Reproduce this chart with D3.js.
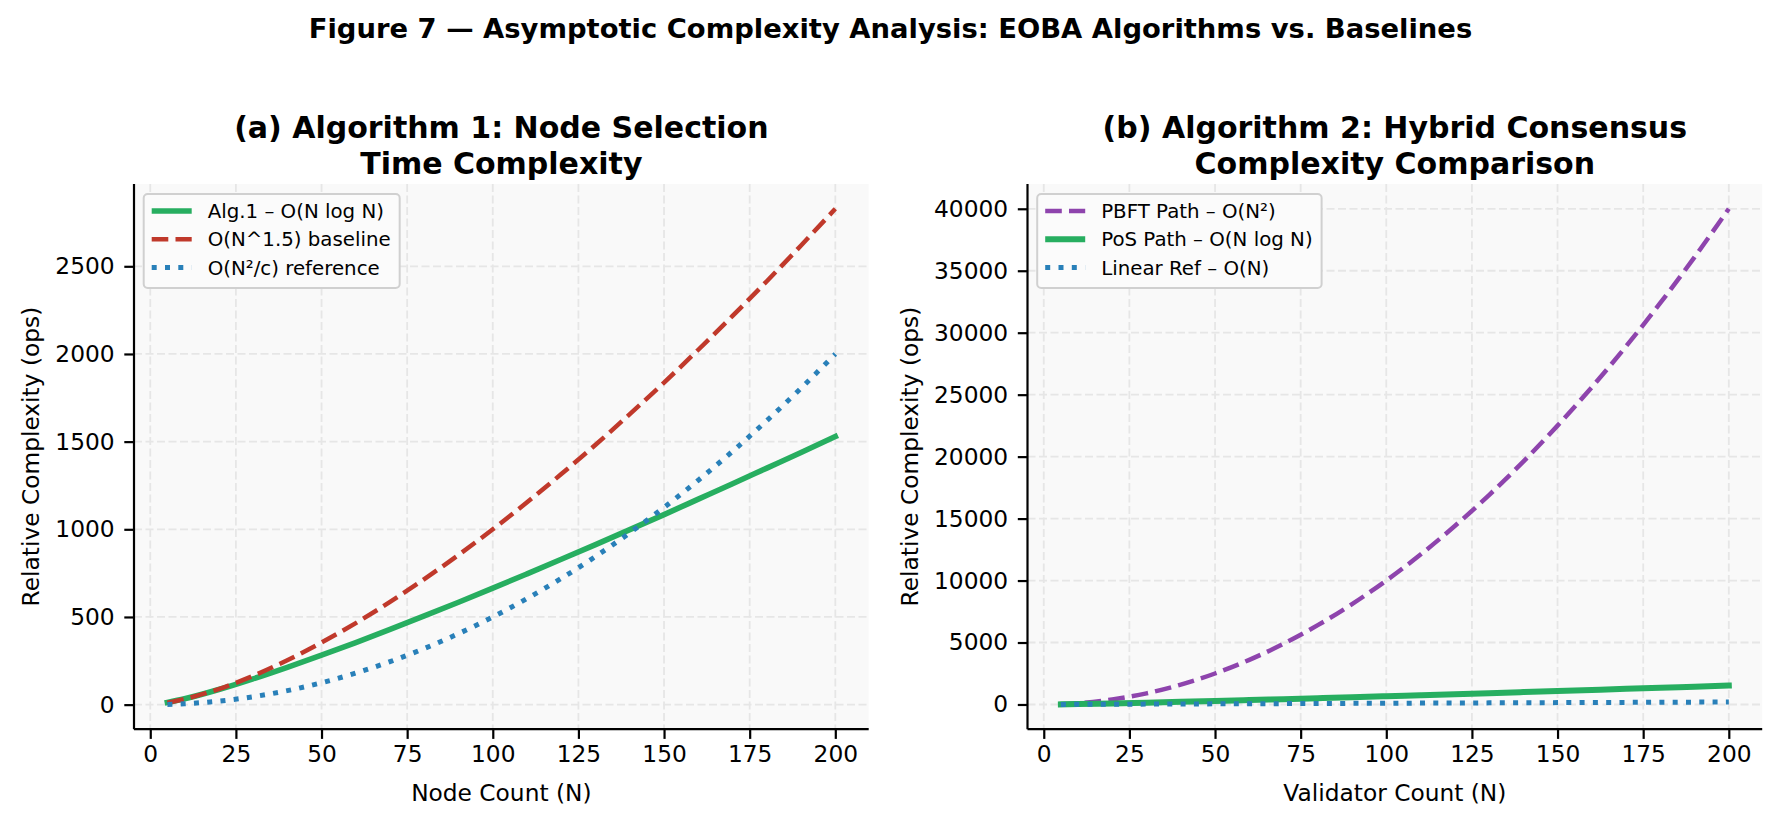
<!DOCTYPE html>
<html>
<head>
<meta charset="utf-8">
<script src="https://cdn.jsdelivr.net/npm/d3@7/dist/d3.min.js"></script>
<style>
body { margin: 0; background: #fff; }
text { font-family: "DejaVu Sans", sans-serif; fill: #000; }
</style>
</head>
<body>
<svg id="visualisation" width="1781" height="824"></svg>
<script>
// values (N = 5, 10, 20 ... 200)
var nodeCount = [5, 10, 20, 30, 40, 50, 60, 70, 80, 90, 100, 110, 120, 130, 140, 150, 160, 170, 180, 190, 200];
var alg1Ops = [12, 33, 86, 147, 213, 282, 354, 429, 506, 584, 664, 746, 829, 913, 998, 1084, 1172, 1260, 1349, 1438, 1529];
var baselineOps = [11, 32, 89, 164, 253, 354, 465, 586, 716, 854, 1000, 1154, 1315, 1482, 1657, 1837, 2024, 2217, 2415, 2619, 2828];
var refOps = [1.25, 5, 20, 45, 80, 125, 180, 245, 320, 405, 500, 605, 720, 845, 980, 1125, 1280, 1445, 1620, 1805, 2000];

var validatorCount = [5, 10, 20, 30, 40, 50, 60, 70, 80, 90, 100, 110, 120, 130, 140, 150, 160, 170, 180, 190, 200];
var pbftOps = [25, 100, 400, 900, 1600, 2500, 3600, 4900, 6400, 8100, 10000, 12100, 14400, 16900, 19600, 22500, 25600, 28900, 32400, 36100, 40000];
var posOps = [12, 33, 86, 147, 213, 282, 354, 429, 506, 584, 664, 746, 829, 913, 998, 1084, 1172, 1260, 1349, 1438, 1529];
var linearOps = [5, 10, 20, 30, 40, 50, 60, 70, 80, 90, 100, 110, 120, 130, 140, 150, 160, 170, 180, 190, 200];

var xTicks = [0, 25, 50, 75, 100, 125, 150, 175, 200];
var yTicksA = [0, 500, 1000, 1500, 2000, 2500];
var yTicksB = [0, 5000, 10000, 15000, 20000, 25000, 30000, 35000, 40000];

var GREEN = "#27ae60", RED = "#c0392b", BLUE = "#2980b9", PURPLE = "#8e44ad";

var vis = d3.select("#visualisation");

vis.append("text")
    .attr("x", 890.5)
    .attr("y", 38)
    .attr("text-anchor", "middle")
    .style("font-size", "27.4px")
    .style("font-weight", "bold")
    .text("Figure 7 \u2014 Asymptotic Complexity Analysis: EOBA Algorithms vs. Baselines");

var styleOf = {
    solid: { dash: null, cap: "square" },
    dashed: { dash: "16.6,7.2", cap: "butt" },
    dotted: { dash: "5,8.3", cap: "butt" }
};

var drawPanel = function (p) {
    var xs = p.x;
    var allY = [];
    p.series.forEach(function (s) { allY = allY.concat(s.values); });
    var xMin = d3.min(xs), xMax = d3.max(xs), yMin = d3.min(allY), yMax = d3.max(allY);
    var xPad = (xMax - xMin) * 0.05, yPad = (yMax - yMin) * 0.05;

    var xScale = d3.scaleLinear().domain([xMin - xPad, xMax + xPad]).range([p.left, p.right]);
    var yScale = d3.scaleLinear().domain([yMin - yPad, yMax + yPad]).range([p.bottom, p.top]);

    var g = vis.append("g");

    g.append("rect")
        .attr("x", p.left).attr("y", p.top)
        .attr("width", p.right - p.left).attr("height", p.bottom - p.top)
        .attr("fill", "#f9f9f9");

    // grid
    g.selectAll(".vgrid").data(xTicks).enter().append("line")
        .attr("x1", function (d) { return xScale(d); })
        .attr("x2", function (d) { return xScale(d); })
        .attr("y1", p.top).attr("y2", p.bottom)
        .attr("stroke", "#e6e6e6").attr("stroke-width", 1.8)
        .attr("stroke-dasharray", "8,3.5");
    g.selectAll(".hgrid").data(p.yTicks).enter().append("line")
        .attr("y1", function (d) { return yScale(d); })
        .attr("y2", function (d) { return yScale(d); })
        .attr("x1", p.left).attr("x2", p.right)
        .attr("stroke", "#e6e6e6").attr("stroke-width", 1.8)
        .attr("stroke-dasharray", "8,3.5");

    var lines = g.append("g");
    p.series.forEach(function (s) {
        var pts = xs.map(function (x, i) { return [x, s.values[i]]; });
        var lineGen = d3.line()
            .x(function (d) { return xScale(d[0]); })
            .y(function (d) { return yScale(d[1]); })
            .curve(d3.curveMonotoneX);
        lines.append("path")
            .attr("d", lineGen(pts))
            .attr("fill", "none")
            .attr("stroke", s.color)
            .attr("stroke-width", s.width)
            .attr("stroke-dasharray", styleOf[s.style].dash)
            .attr("stroke-linecap", styleOf[s.style].cap)
            .attr("stroke-linejoin", "round");
    });

    // axes
    var fmt = d3.format("d");
    var xAxis = d3.axisBottom(xScale).tickValues(xTicks).tickFormat(fmt).tickSize(9.7).tickPadding(7);
    var yAxis = d3.axisLeft(yScale).tickValues(p.yTicks).tickFormat(fmt).tickSize(9.7).tickPadding(9.7);
    var gx = g.append("g")
        .attr("transform", "translate(0," + p.bottom + ")")
        .call(xAxis);
    var gy = g.append("g")
        .attr("transform", "translate(" + p.left + ",0)")
        .call(yAxis);
    [gx, gy].forEach(function (ax) {
        ax.select(".domain").attr("stroke", "#000").attr("stroke-width", 2.2);
        ax.selectAll(".tick line").attr("stroke", "#000").attr("stroke-width", 2.2);
        ax.selectAll(".tick text")
            .style("font-family", "DejaVu Sans")
            .style("font-size", "23.3px")
            .attr("fill", "#000");
    });
    gx.select(".domain").attr("d", "M" + p.left + ",0H" + p.right);
    gy.select(".domain").attr("d", "M0," + p.top + "V" + p.bottom);

    // axis labels
    g.append("text")
        .attr("x", (p.left + p.right) / 2)
        .attr("y", 801)
        .attr("text-anchor", "middle")
        .style("font-size", "23.3px")
        .text(p.xLabel);
    g.append("text")
        .attr("transform", "translate(" + p.yLabelX + "," + ((p.top + p.bottom) / 2) + ") rotate(-90)")
        .attr("text-anchor", "middle")
        .style("font-size", "23.3px")
        .text(p.yLabel);

    // title
    var t = g.append("text")
        .attr("text-anchor", "middle")
        .style("font-size", "30px")
        .style("font-weight", "bold");
    p.title.forEach(function (line, i) {
        t.append("tspan")
            .attr("x", (p.left + p.right) / 2)
            .attr("y", 138 + i * 35.6)
            .text(line);
    });

    // legend
    var bx = p.left + 9.7, by = p.top + 10;
    var lg = g.append("g");
    var box = lg.append("rect")
        .attr("x", bx).attr("y", by)
        .attr("height", 94).attr("rx", 4).attr("ry", 4)
        .attr("fill", "#fbfbfb").attr("stroke", "#d0d0d0").attr("stroke-width", 2);
    var maxW = 0;
    p.series.forEach(function (s, i) {
        var ry = by + 17 + i * 28.3;
        lg.append("line")
            .attr("x1", bx + 8).attr("x2", bx + 48)
            .attr("y1", ry).attr("y2", ry)
            .attr("stroke", s.color)
            .attr("stroke-width", s.width)
            .attr("stroke-dasharray", styleOf[s.style].dash)
            .attr("stroke-linecap", "butt");
        var tx = lg.append("text")
            .attr("x", bx + 64).attr("y", ry)
            .attr("dy", "0.35em")
            .style("font-size", "19.8px")
            .text(s.label);
        maxW = Math.max(maxW, tx.node().getComputedTextLength());
    });
    box.attr("width", 64 + maxW + 9);
};

drawPanel({
    left: 134, right: 868.7, top: 184, bottom: 729.2,
    x: nodeCount,
    yTicks: yTicksA,
    yLabelX: 39,
    title: ["(a) Algorithm 1: Node Selection", "Time Complexity"],
    xLabel: "Node Count (N)",
    yLabel: "Relative Complexity (ops)",
    series: [
        { label: "Alg.1 \u2013 O(N log N)", values: alg1Ops, color: GREEN, width: 5.6, style: "solid" },
        { label: "O(N^1.5) baseline", values: baselineOps, color: RED, width: 4.5, style: "dashed" },
        { label: "O(N\u00b2/c) reference", values: refOps, color: BLUE, width: 5, style: "dotted" }
    ]
});

drawPanel({
    left: 1027.5, right: 1762.2, top: 184, bottom: 729.2,
    x: validatorCount,
    yTicks: yTicksB,
    yLabelX: 918,
    title: ["(b) Algorithm 2: Hybrid Consensus", "Complexity Comparison"],
    xLabel: "Validator Count (N)",
    yLabel: "Relative Complexity (ops)",
    series: [
        { label: "PBFT Path \u2013 O(N\u00b2)", values: pbftOps, color: PURPLE, width: 4.5, style: "dashed" },
        { label: "PoS Path \u2013 O(N log N)", values: posOps, color: GREEN, width: 6, style: "solid" },
        { label: "Linear Ref \u2013 O(N)", values: linearOps, color: BLUE, width: 5, style: "dotted" }
    ]
});
</script>
</body>
</html>
